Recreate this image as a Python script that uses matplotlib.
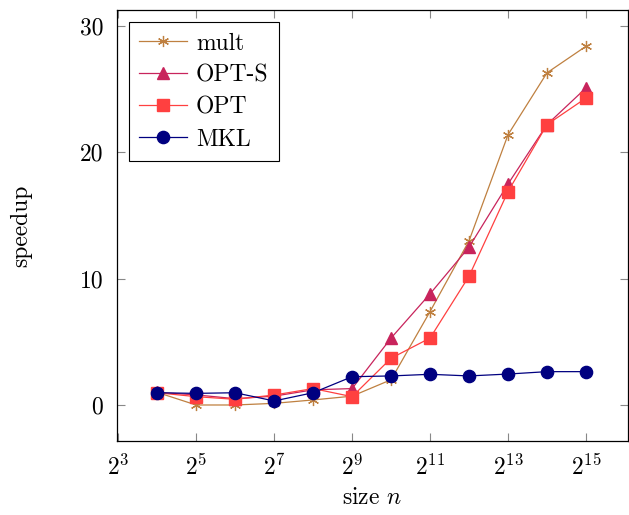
import matplotlib

matplotlib.use("Agg")
import matplotlib.pyplot as plt
import numpy as np

plt.rcParams["font.family"] = "serif"
plt.rcParams["font.serif"] = ["cmr10", "DejaVu Serif"]
plt.rcParams["mathtext.fontset"] = "cm"
plt.rcParams["axes.formatter.use_mathtext"] = True

exponents = [4, 5, 6, 7, 8, 9, 10, 11, 12, 13, 14, 15]
sizes = [2 ** e for e in exponents]

mult = [1.0, 0.0, 0.0, 0.13, 0.4, 0.7, 2.0, 7.4, 13.0, 21.4, 26.3, 28.4]
opt_s = [1.0, 0.8, 0.5, 0.7, 1.2, 1.3, 5.3, 8.8, 12.5, 17.5, 22.2, 25.1]
opt = [0.97, 0.66, 0.45, 0.79, 1.3, 0.66, 3.7, 5.3, 10.2, 16.9, 22.2, 24.3]
mkl = [0.97, 0.92, 0.97, 0.32, 0.97, 2.24, 2.3, 2.43, 2.3, 2.45, 2.64, 2.64]

x_tick_exps = [3, 5, 7, 9, 11, 13, 15]
y_ticks = [0, 10, 20, 30]

fig = plt.figure(figsize=(6.29, 5.15), dpi=100)
ax = fig.add_axes([0.186, 0.1437, 0.812, 0.8369])

ax.plot(sizes, mult, color="#BF8040", lw=0.9, marker=(6, 2, 0), ms=8,
        mew=0.9, label="mult")
ax.plot(sizes, opt_s, color="#C8245C", lw=0.9, marker="^", ms=8.5,
        label="OPT-S")
ax.plot(sizes, opt, color="#FF4040", lw=0.9, marker="s", ms=8.2,
        label="OPT")
ax.plot(sizes, mkl, color="#000080", lw=0.9, marker="o", ms=8.8,
        label="MKL")

ax.set_xscale("log", base=2)
ax.set_xlim(2 ** 2.97, 2 ** 16.07)
ax.set_ylim(-2.85, 31.27)
ax.set_xticks([2 ** e for e in x_tick_exps])
ax.set_xticklabels([rf"$2^{{{e}}}$" for e in x_tick_exps])
ax.xaxis.set_minor_locator(matplotlib.ticker.NullLocator())
ax.set_yticks(y_ticks)
ax.set_yticklabels([str(v) for v in y_ticks])

ax.tick_params(direction="in", length=6, width=0.8, color="#888888",
               labelsize=17, top=True, right=True, pad=10)
for spine in ax.spines.values():
    spine.set_linewidth(0.9)

ax.set_xlabel(r"size $n$", fontsize=17, labelpad=5)
ax.set_ylabel("speedup", fontsize=17, labelpad=34)

leg = ax.legend(loc="upper left", fontsize=17, fancybox=False,
                edgecolor="black", framealpha=1, handlelength=2.0,
                borderaxespad=0.5, labelspacing=0.42, handletextpad=0.4,
                borderpad=0.45)
leg.get_frame().set_linewidth(0.8)

fig.savefig("out.png", dpi=100, facecolor="white")
